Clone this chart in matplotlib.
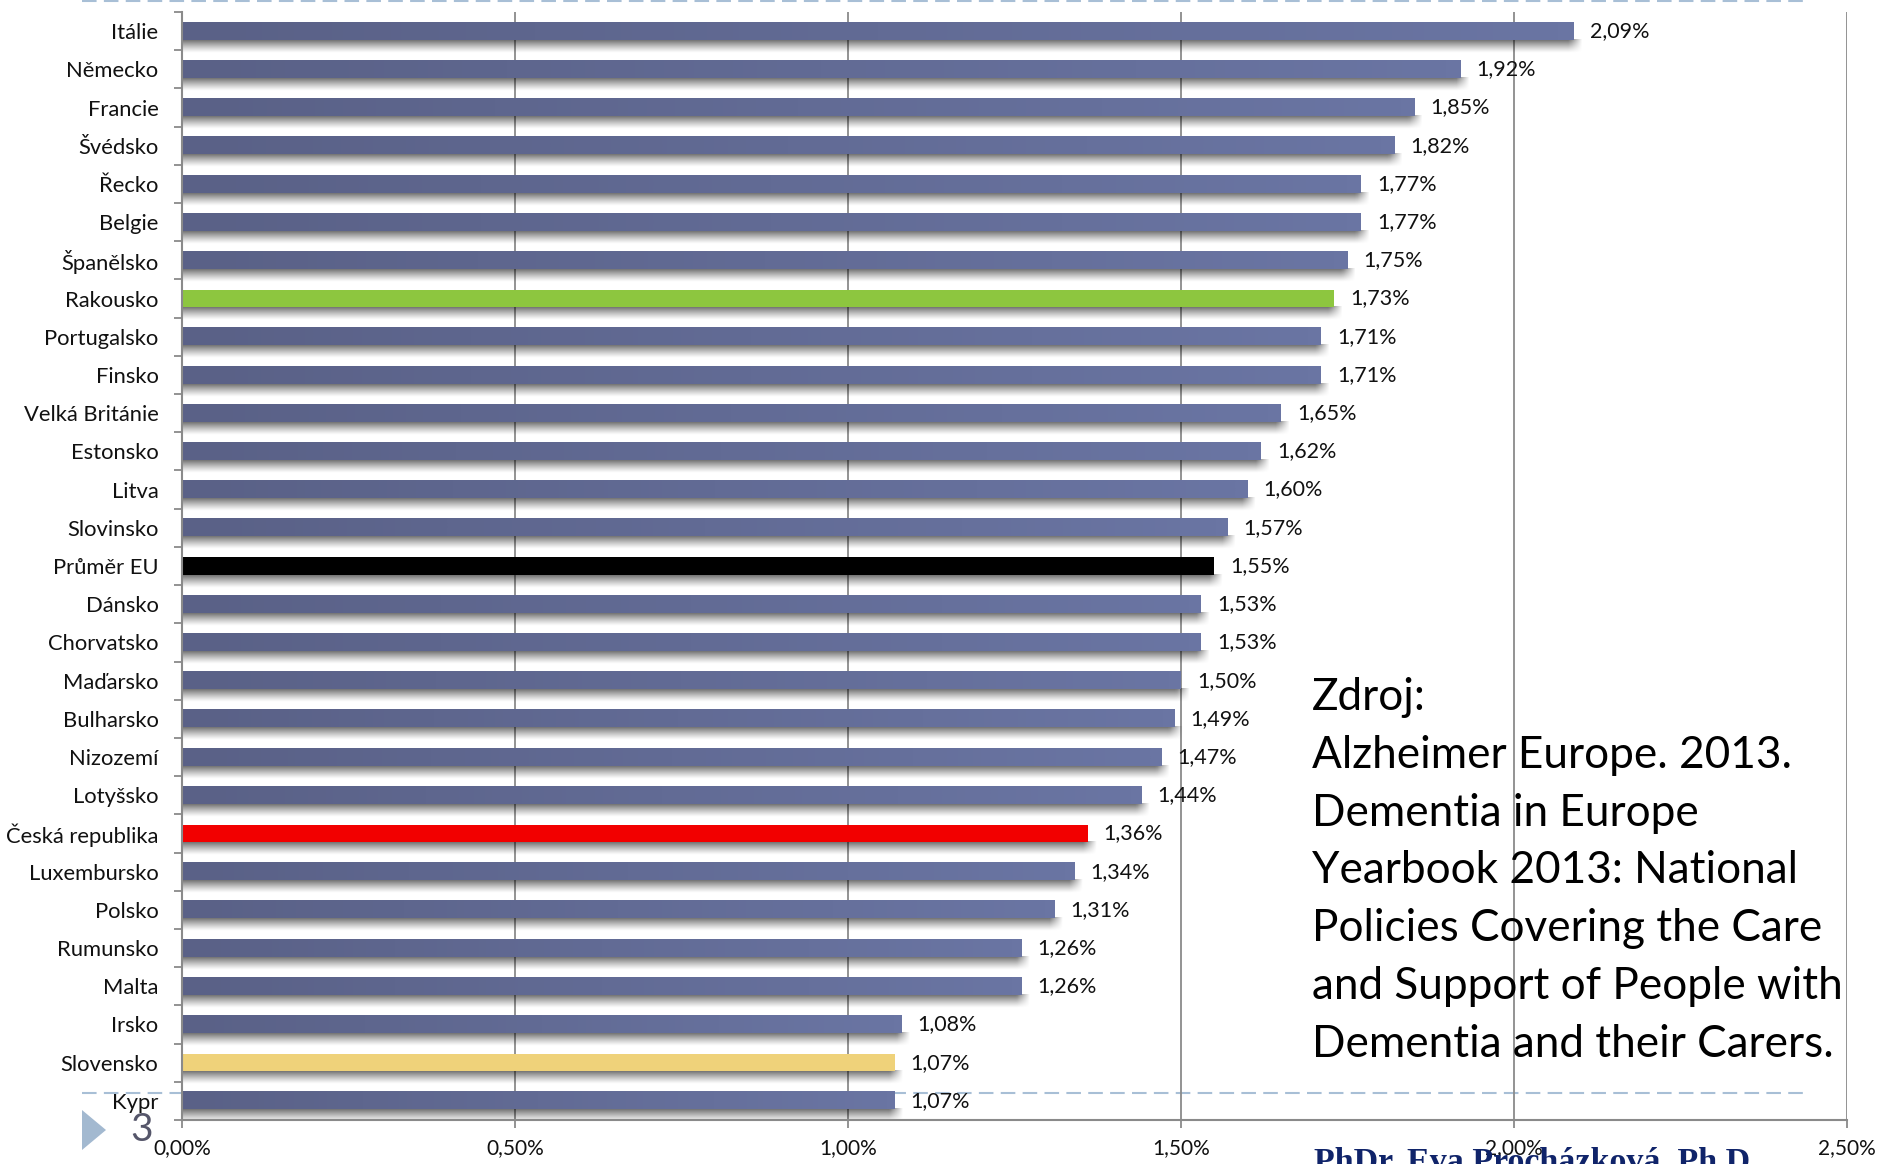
import numpy as np
import matplotlib
matplotlib.use("Agg")
import matplotlib.pyplot as plt
from matplotlib.lines import Line2D
from matplotlib.patches import Polygon
from matplotlib.ticker import FuncFormatter
from matplotlib.colors import LinearSegmentedColormap

plt.rcParams['font.family'] = ['Lato', 'DejaVu Sans']

countries = ["Itálie", "Německo", "Francie", "Švédsko", "Řecko", "Belgie", "Španělsko",
             "Rakousko", "Portugalsko", "Finsko", "Velká Británie", "Estonsko", "Litva",
             "Slovinsko", "Průměr EU", "Dánsko", "Chorvatsko", "Maďarsko", "Bulharsko",
             "Nizozemí", "Lotyšsko", "Česká republika", "Luxembursko", "Polsko",
             "Rumunsko", "Malta", "Irsko", "Slovensko", "Kypr"]
values = [2.09, 1.92, 1.85, 1.82, 1.77, 1.77, 1.75, 1.73, 1.71, 1.71, 1.65, 1.62, 1.60,
          1.57, 1.55, 1.53, 1.53, 1.50, 1.49, 1.47, 1.44, 1.36, 1.34, 1.31, 1.26, 1.26,
          1.08, 1.07, 1.07]
highlight = {"Rakousko": "#8dc63f", "Průměr EU": "#000000",
             "Česká republika": "#f20000", "Slovensko": "#efd27a"}
xticks = [0.0, 0.5, 1.0, 1.5, 2.0, 2.5]
source_lines = ["Zdroj:", "Alzheimer Europe. 2013.", "Dementia in Europe",
                "Yearbook 2013: National", "Policies Covering the Care",
                "and Support of People with", "Dementia and their Carers."]
author = "PhDr. Eva Procházková, Ph.D."
slide_no = "3"

W, H = 1881, 1164
fig = plt.figure(figsize=(W / 100, H / 100), dpi=100)
fig.patch.set_facecolor("white")

ax_left, ax_right, ax_top, ax_bottom = 182, 1847, 12, 1120
ax = fig.add_axes([ax_left / W, 1 - ax_bottom / H, (ax_right - ax_left) / W,
                   (ax_bottom - ax_top) / H])

n = len(countries)
ypos = np.arange(n)[::-1].astype(float)
bh = 0.45

grad = np.linspace(0, 1, 64).reshape(1, -1)
cmap_bar = LinearSegmentedColormap.from_list("b", ["#5a6187", "#6a75a3"])

ncol = 400
vrows = np.linspace(1, 0, 40) ** 1.2


def shadow_img(v):
    x0, x1 = 0.0, v + 0.014
    xs = np.linspace(x0, x1, ncol)
    h = np.clip((x1 - xs) / 0.02, 0, 1)
    a = 0.6 * vrows.reshape(-1, 1) * h.reshape(1, -1)
    img = np.zeros((len(vrows), ncol, 4))
    img[:, :, 3] = a
    return img, (x0, x1)


for c, v, y in zip(countries, values, ypos):
    img, (x0, x1) = shadow_img(v)
    ax.imshow(img, extent=(x0, x1, y - bh / 2 - 0.34, y - bh / 2 + 0.02),
              origin="upper", aspect="auto", zorder=2, interpolation="bilinear")
    if c in highlight:
        ax.barh(y, v, height=bh, color=highlight[c], zorder=3)
    else:
        ax.imshow(grad, extent=(0, v, y - bh / 2, y + bh / 2), cmap=cmap_bar,
                  aspect="auto", zorder=3, interpolation="bilinear")
    ax.text(v + 0.024, y, f"{v:.2f}%".replace(".", ","), va="center", ha="left",
            fontsize=15.5, color="#111111", zorder=5)

ax.set_xlim(0, 2.5)
ax.set_ylim(-0.5, n - 0.5)
ax.set_xticks(xticks)
ax.xaxis.set_major_formatter(FuncFormatter(lambda x, p: f"{x:.2f}%".replace(".", ",")))
ax.set_yticks(ypos)
ax.set_yticklabels(countries)
ax.set_yticks(np.arange(-0.5, n, 1.0), minor=True)

gc = "#8a8a8a"
for x in xticks[1:]:
    ax.axvline(x, color=gc, lw=1.3, zorder=1)
for s in ["top", "right"]:
    ax.spines[s].set_visible(False)
for s in ["left", "bottom"]:
    ax.spines[s].set_color(gc)
    ax.spines[s].set_linewidth(1.5)
    ax.spines[s].set_zorder(4)

ax.tick_params(axis="y", which="major", length=0, pad=17, labelsize=15.8,
               labelcolor="#111111")
ax.tick_params(axis="y", which="minor", length=5.8, width=1.3, color=gc, direction="out")
ax.tick_params(axis="x", which="major", length=6, width=1.3, color=gc, direction="out",
               pad=7, labelsize=15, labelcolor="#111111")
ax.set_facecolor("none")


def fy(py):
    return 1 - py / H


def fx(px):
    return px / W


# dashed decorative lines
dash_col = "#a8bfd6"
for py in (0.8, 1093):
    fig.add_artist(Line2D([fx(82), fx(1810)], [fy(py), fy(py)], color=dash_col, lw=1.5,
                          linestyle=(0, (7, 3.5)), zorder=0))

# slide marker
fig.add_artist(Polygon([[fx(82), fy(1110)], [fx(82), fy(1150)], [fx(106), fy(1130)]],
                       closed=True, facecolor="#a3b9d0", edgecolor="none"))
fig.text(fx(142), fy(1130), slide_no, ha="center", va="center", fontsize=28,
         color="#55566a")

# source text
for k, line in enumerate(source_lines):
    fig.text(fx(1312), fy(710 + 57.8 * k), line, ha="left", va="baseline",
             fontsize=31.8, color="#000000")

fig.text(fx(1314), fy(1171), author, ha="left", va="baseline", fontsize=24.5,
         fontweight="bold", family=["Liberation Serif", "DejaVu Serif"],
         color="#10246a")

fig.savefig("out.png", dpi=100, facecolor="white")
